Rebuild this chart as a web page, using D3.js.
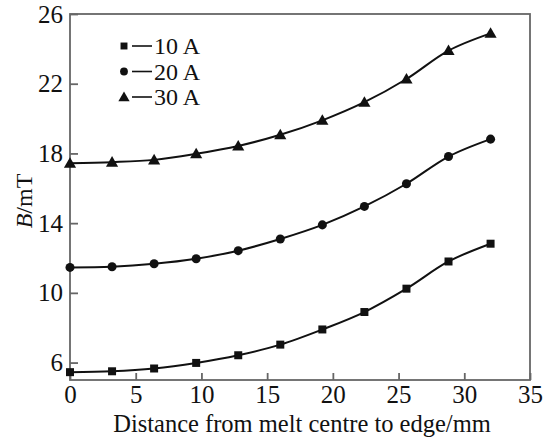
<!DOCTYPE html>
<html>
<head>
<meta charset="utf-8">
<script src="https://cdn.jsdelivr.net/npm/d3@7"></script>
<style>
  body { margin: 0; background: #fff; }
  text { font-family: "Liberation Serif", "Times New Roman", serif; fill: #111; }
</style>
</head>
<body>
<svg id="chart"></svg>
<script>
const distance = [0, 3.2, 6.4, 9.6, 12.8, 16, 19.2, 22.4, 25.6, 28.8, 32];
const b10 = [5.45, 5.5, 5.66, 5.98, 6.42, 7.03, 7.9, 8.9, 10.24, 11.8, 12.82];
const b20 = [11.46, 11.5, 11.67, 11.96, 12.42, 13.09, 13.9, 14.96, 16.26, 17.82, 18.82];
const b30 = [17.44, 17.5, 17.63, 17.98, 18.43, 19.07, 19.9, 20.94, 22.27, 23.9, 24.89];
const seriesNames = ["10 A", "20 A", "30 A"];
const xTicks = [0, 5, 10, 15, 20, 25, 30, 35];
const yTicks = [6, 10, 14, 18, 22, 26];

const svgWidth = 550;
const svgHeight = 439;
const margin = { top: 14, right: 20, bottom: 59, left: 70 };
const width = svgWidth - margin.left - margin.right;
const height = svgHeight - margin.top - margin.bottom;

const svg = d3.select("#chart")
  .attr("width", svgWidth)
  .attr("height", svgHeight)
  .append("g")
  .attr("transform", `translate(${margin.left},${margin.top})`);

const xScale = d3.scaleLinear().domain([0, 35]).range([0, width]);
const yScale = d3.scaleLinear().domain([5, 26]).range([height, 0]);

// frame
svg.append("rect")
  .attr("width", width)
  .attr("height", height)
  .attr("fill", "none")
  .attr("stroke", "#666")
  .attr("stroke-width", 1.8);

// axes with inward ticks
const xAxis = svg.append("g")
  .attr("transform", `translate(0,${height})`)
  .call(d3.axisBottom(xScale).tickValues(xTicks).tickSizeInner(-7).tickSizeOuter(0).tickPadding(5));
const yAxis = svg.append("g")
  .call(d3.axisLeft(yScale).tickValues(yTicks).tickSizeInner(-8).tickSizeOuter(0).tickPadding(7));

[xAxis, yAxis].forEach(a => {
  a.select(".domain").remove();
  a.selectAll(".tick line").attr("stroke", "#666").attr("stroke-width", 1.8);
  a.selectAll(".tick text")
    .attr("font-family", "Liberation Serif, Times New Roman, serif")
    .attr("font-size", 25)
    .attr("fill", "#111");
});
xAxis.selectAll(".tick text").attr("dy", "0.72em");

// axis titles
svg.append("text")
  .attr("x", width / 2 + 2)
  .attr("y", height + 52)
  .attr("text-anchor", "middle")
  .attr("font-size", 24.5)
  .text("Distance from melt centre to edge/mm");

svg.append("text")
  .attr("transform", `translate(${-38},${height / 2 + 4}) rotate(-90)`)
  .attr("text-anchor", "middle")
  .attr("font-size", 24)
  .html('<tspan font-style="italic">B</tspan>/mT');

const allSeries = [b10, b20, b30];
const line = d3.line()
  .x((d, i) => xScale(distance[i]))
  .y(d => yScale(d))
  .curve(d3.curveCatmullRom.alpha(0.5));

const symbols = [d3.symbolSquare, d3.symbolCircle, d3.symbolTriangle];
const symbolSizes = [64, 64, 64];

allSeries.forEach((values, s) => {
  svg.append("path")
    .datum(values)
    .attr("fill", "none")
    .attr("stroke", "#111")
    .attr("stroke-width", 2)
    .attr("d", line);

  svg.selectAll(".m" + s)
    .data(values)
    .enter()
    .append("path")
    .attr("class", "m" + s)
    .attr("transform", (d, i) => `translate(${xScale(distance[i])},${yScale(d) + (s === 2 ? 1 : 0)})`)
    .attr("d", d3.symbol().type(symbols[s]).size(symbolSizes[s]))
    .attr("fill", "#111");
});

// legend
const legend = svg.append("g").attr("transform", "translate(54,32)");
seriesNames.forEach((name, i) => {
  const row = legend.append("g").attr("transform", `translate(0,${i * 25.5})`);
  row.append("path")
    .attr("transform", `translate(0,${i === 2 ? 1 : 0})`)
    .attr("d", d3.symbol().type(symbols[i]).size(i === 2 ? 55 : 48))
    .attr("fill", "#111");
  row.append("line")
    .attr("x1", 8).attr("x2", 28)
    .attr("y1", 0).attr("y2", 0)
    .attr("stroke", "#111")
    .attr("stroke-width", 1.6);
  row.append("text")
    .attr("x", 30)
    .attr("y", 0)
    .attr("dy", "0.35em")
    .attr("font-size", 24)
    .text(name);
});
</script>
</body>
</html>
